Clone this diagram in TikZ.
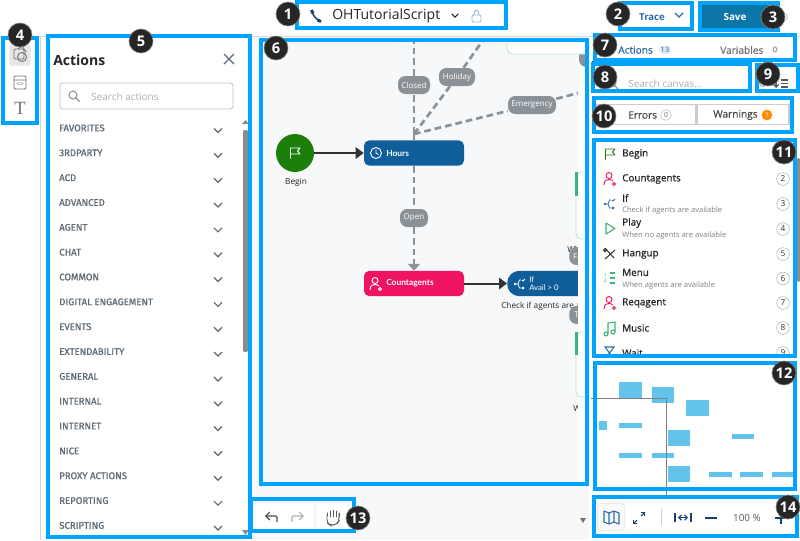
\documentclass[tikz,border=0pt]{standalone}
\usepackage{fontspec}
\setmainfont{Open Sans}
\newfontfamily\semifont{Open Sans}[FakeBold=0.8]
\newfontfamily\catfont{Fira Sans}[FakeBold=1]
\newfontfamily\flowfont{Lato}
\newfontfamily\toolfont{Liberation Serif}
\usetikzlibrary{arrows.meta,positioning}
\newcommand{\fs}[1]{\fontsize{#1}{#1}\selectfont}
\definecolor{framecol}{HTML}{00A3FF}
\definecolor{flowblue}{HTML}{0F5E99}
\definecolor{flowpink}{HTML}{EE1461}
\definecolor{flowgreen}{HTML}{1B7F0A}
\definecolor{pillgrey}{HTML}{8A9197}
\definecolor{canvasbg}{HTML}{F7F8F9}
\definecolor{mapblue}{HTML}{62C4EA}
\definecolor{catgrey}{HTML}{5F6B75}
\definecolor{faint}{HTML}{A9B0B6}
\definecolor{listgreen}{HTML}{3DB57A}
\definecolor{listblue}{HTML}{2A6EA8}
\definecolor{darknavy}{HTML}{14406E}
\tikzset{
  framebox/.style={draw=framecol,line width=2.9pt},
  badge/.style={circle,fill=black!85,draw=black!50,line width=0.5pt,text=white,inner sep=0pt,minimum size=18pt,font=\fs{11}\bfseries},
  pill/.style={rounded corners=5.5pt,fill=pillgrey,text=white,inner sep=0pt,minimum height=13.5pt,font=\fs{6}},
  flowbox/.style={rounded corners=4pt,text=white,minimum width=75pt,minimum height=19pt,inner sep=0pt},
  flowtext/.style={anchor=west,inner sep=0pt,text=white,font=\flowfont\fs{6.3}\bfseries},
  captiontext/.style={anchor=west,inner sep=0pt,font=\fs{6.2},text=black!85},
  dashline/.style={draw=pillgrey,line width=2pt,dash pattern=on 5pt off 3pt},
  flowarrow/.style={draw=black!80,line width=1.5pt,-{Triangle[length=6pt,width=8.5pt]}},
  catlabel/.style={anchor=west,text=catgrey,inner sep=0pt,font=\catfont\fs{7.2}},
  rowlabel/.style={anchor=west,text=black!85,inner sep=0pt,font=\semifont\fs{7.4}},
  rowsub/.style={anchor=west,text=black!50,inner sep=0pt,font=\fs{5.7}},
  rownum/.style={circle,draw=black!30,fill=white,inner sep=0pt,minimum size=9.5pt,text=black!80,font=\fs{6.2}},
  mapbox/.style={fill=mapblue},
  cardbox/.style={draw=listgreen!35,fill=white,rounded corners=4pt,line width=0.6pt},
  pics/chevron/.style={code={\draw[line width=0.9pt,#1] (-4,-2) -- (0,2) -- (4,-2);}},
  pics/flagicon/.style={code={\draw[line width=0.7pt,#1,line join=round] (-4.5,5.5) -- (-4.5,-5) -- (5,-5) -- (2.5,-2) -- (5,1) -- (-4.5,1);}},
  pics/personicon/.style={code={\draw[line width=0.7pt,#1] (-1,-3.5) circle (3) (-6,6) .. controls (-6,1) and (-3,0.5) .. (-1,0.5) .. controls (0.5,0.5) and (2,1) .. (3,2) (4,5) circle (1.5);}},
  pics/branchicon/.style={code={\fill[#1] (-5,0) circle (1.4);\draw[line width=0.6pt,#1] (-5,0) -- (-2,0) -- (-0.5,-4) -- (1,-4) (-2,0) -- (-0.5,4) -- (1,4) (2,-4) -- (3,-3) -- (5,-5) (2,3) -- (4,5) (4,3) -- (2,5);}},
  pics/searchicon/.style={code={\draw[line width=0.8pt,#1] (-1,-1) circle (4) (2,2) -- (5.5,5.5);}},
  pics/clockicon/.style={code={\draw[line width=0.7pt,#1] (0,0) circle (5.5) (0,-3.5) -- (0,0) -- (2.5,1.5);}}
}
\begin{document}
\begin{tikzpicture}[x=0.75pt,y=-0.75pt]
\useasboundingbox (0,0) rectangle (800,540);
\fill[white] (0,0) rectangle (800,540);
\fill[canvasbg] (250,36) rectangle (590,540);
\foreach \x in {264,272,...,584}
  \foreach \y in {44,52,...,484}
    \fill[black!16] (\x,\y) circle (0.35);
\draw[black!15] (0,36) -- (800,36);
\draw[black!15] (40,36) -- (40,540);

\begin{scope}
\clip (262,41) rectangle (578,484);
\coordinate (hub) at (414,134);
\coordinate (closedtop) at (414,36);
\coordinate (holidaytop) at (486,36);
\coordinate (emergencytop) at (590,90);
\node[circle,fill=flowgreen,minimum size=28.5pt,inner sep=0pt] (begin) at (295,153) {};
\node[font=\fs{6.2},text=black!85,inner sep=0pt] (beginlabel) at (296,182) {Begin};
\node[flowbox,fill=flowblue] (hours) at (414,153) {};
\node[flowtext] (hourslabel) at (386,153) {Hours};
\node[flowbox,fill=flowpink] (counta) at (414,283.5) {};
\node[flowtext] (countalabel) at (386,283.5) {Countagents};
\node[flowbox,fill=flowblue,rounded corners=9pt,anchor=west] (ifnode) at (507,283.5) {};
\node[flowtext,align=left,font=\flowfont\fs{5.8}] (iflabel) at (529,283.5) {If\\Avail > 0};
\node[captiontext] (ifcaption) at (501,306.5) {Check if agents are available};
\node[captiontext] (playlabel) at (567,249) {When};
\node[captiontext] (menulabel) at (573,408) {When};
\node[pill,minimum width=24pt] (closed) at (414,85) {Closed};
\node[pill,minimum width=27pt] (holiday) at (457,77) {Holiday};
\node[pill,minimum width=36pt] (emergency) at (532,105) {Emergency};
\node[pill,minimum width=21pt] (open) at (414,218) {Open};
\node[pill,minimum width=20pt,anchor=west] (ifpilla) at (569,256) {False};
\node[pill,minimum width=20pt,anchor=west] (ifpillb) at (569,315) {True};
\draw[pillgrey,line width=1.2pt] (ifpilla) -- (ifnode.north east);
\draw[pillgrey,line width=1.2pt] (ifpillb) -- (ifnode.south east);
\draw[flowarrow] (begin) -- (hours);
\draw[flowarrow] (counta) -- (ifnode);
\draw[dashline] (hours.north) -- (hub);
\draw[dashline] (hub) -- (closed);
\draw[dashline] (closed) -- (closedtop);
\draw[dashline] (hub) -- (holiday);
\draw[dashline] (holiday) -- (holidaytop);
\draw[dashline] (hub) -- (emergency);
\draw[dashline] (emergency) -- (emergencytop);
\draw[dashline] (hours.south) -- (open);
\draw[dashline,-{Triangle[length=5pt,width=9pt,fill=pillgrey]}] (open) -- (counta.north);
\pic at (295,153) {flagicon=white};
\pic at (376,153) {clockicon=white};
\pic at (376,284) {personicon=white};
\pic at (520,284) {branchicon=white};
\end{scope}

\fill[white] (578,60) rectangle (586,484);
\begin{scope}
\clip (500,41) rectangle (586,484);
\node[pill,minimum width=12pt] (toppill) at (587,58) {};
\draw[cardbox] (507,30) rectangle (600,54);
\draw[cardbox] (576,172) rectangle (600,239);
\draw[cardbox] (576,332) rectangle (600,397);
\fill[listgreen] (575,172) rectangle (578,196);
\fill[listgreen] (575,332) rectangle (578,355);
\end{scope}
\fill[black!55] (580,518) -- (586,518) -- (583,523) -- cycle;

\node[fill=black!10,rounded corners=2pt,minimum width=16pt,minimum height=16pt,inner sep=0pt] (toolsel) at (20,55) {};
\draw[black!55,line width=0.7pt,rounded corners=1pt] (14,49) rectangle (24,59);
\draw[black!55,line width=0.7pt] (22,57) circle (4.5) (18,49) -- (22,46) -- (26,52);
\draw[black!55,line width=0.7pt,rounded corners=1pt] (14,76) rectangle (26,89) (14,80) -- (26,80);
\node[inner sep=0pt,font=\fs{5},text=black!60] (tooltag) at (20,84.5) {<>};
\node[inner sep=0pt,font=\toolfont\fs{14},text=black!55] (tooltext) at (20,108) {T};

\node[anchor=west,inner sep=0pt,font=\fs{10.5}\bfseries,text=black!85] (paneltitle) at (53,60) {Actions};
\draw[catgrey,line width=1pt] (224,54) -- (234,64) (234,54) -- (224,64);
\draw[black!25,rounded corners=2pt,line width=0.6pt] (60,83) rectangle (233,109);
\pic at (74,96) {searchicon=catgrey!70};
\node[anchor=west,inner sep=0pt,font=\fs{7.5},text=faint] (panelsearch) at (91,97) {Search actions};
\foreach \name [count=\i from 0] in {FAVORITES,3RDPARTY,ACD,ADVANCED,AGENT,CHAT,COMMON,DIGITAL ENGAGEMENT,EVENTS,EXTENDABILITY,GENERAL,INTERNAL,INTERNET,NICE,PROXY ACTIONS,REPORTING,SCRIPTING}
{
  \pgfmathsetmacro{\rowy}{128+24.84*\i}
  \node[catlabel] (cat\i) at (59,\rowy) {\name};
  \pic at (218,\rowy+2.5) {chevron=black!60};
}
\fill[black!45,rounded corners=1pt] (243,130) rectangle (248,352);
\fill[black!45] (242,124) -- (249,124) -- (245.5,120) -- cycle;
\fill[black!45] (242,530) -- (249,530) -- (245.5,535) -- cycle;

\node[fill=white,minimum width=43pt,minimum height=21pt,inner sep=0pt] (undopanel) at (284,518) {};
\node[fill=white,minimum width=23pt,minimum height=21pt,inner sep=0pt] (handpanel) at (332,518) {};
\draw[black!70,line width=0.9pt,rounded corners=1pt,-{Straight Barb[length=3pt,width=6pt]}] (277,522) -- (277,516) -- (265,516);
\draw[black!30,line width=0.9pt,rounded corners=1pt,-{Straight Barb[length=3pt,width=6pt]}] (292,522) -- (292,516) -- (304,516);
\draw[black!65,line width=0.7pt,rounded corners=2.5pt] (327,515) -- (327,523) -- (330,525) -- (336,525) -- (339,521) -- (339,513);
\draw[black!65,line width=0.7pt,line cap=round] (327,516) -- (327,513) (330,517) -- (330,511) (333,517) -- (333,510) (336,517) -- (336,511) (339,517) -- (339,513);

\draw[darknavy,line width=1.1pt] (312,11) .. controls (313,16) and (316,19) .. (320,21);
\draw[darknavy,line width=2.2pt] (311.5,10) -- (313,13.5) (317.5,20) -- (321,21.5);
\node[anchor=west,inner sep=0pt,font=\fs{10.5},text=black!85] (scriptname) at (332,16) {OHTutorialScript};
\pic at (455,15.5) [scale=0.8] {chevron=black!85};
\draw[listblue!50,line width=0.7pt,rounded corners=1pt] (472,15) rectangle (481,22) (474,15) -- (474,12) -- (476.5,9.5) -- (479,12) -- (479,15);

\node[inner sep=0pt,font=\fs{7.2}\bfseries,text=listblue] (tracebtn) at (652,17) {Trace};
\pic at (679,15) {chevron=listblue};
\node[fill=flowblue!85!cyan,minimum width=51pt,minimum height=19pt,inner sep=0pt,text=white,font=\fs{7.4}\bfseries] (savebtn) at (735,17) {Save};
\draw[black!20,line width=0.7pt] (784,17) circle (3.5);

\node[anchor=west,inner sep=0pt,font=\semifont\fs{7.6},text=listblue] (tabactions) at (618,50) {Actions};
\node[fill=listblue!15,rounded corners=3pt,inner sep=1pt,font=\fs{5.6},text=listblue] (tabactionsnum) at (665,50) {13};
\node[anchor=west,inner sep=0pt,font=\semifont\fs{7.6},text=black!55] (tabvars) at (720,50) {Variables};
\node[fill=black!6,rounded corners=3pt,inner sep=1pt,font=\fs{5.6},text=black!60] (tabvarsnum) at (775,50) {0};
\draw[darknavy,line width=0.9pt] (592,62) -- (693,62);
\pic at (613,84) {searchicon=catgrey!70};
\node[anchor=west,inner sep=0pt,font=\fs{7.5},text=faint] (canvassearch) at (628,84) {Search canvas...};
\draw[black!30,line width=0.8pt] (763,83) circle (3.5);
\draw[black!65,line width=0.9pt] (781,80) -- (788,80) (781,83.5) -- (788,83.5) (781,87) -- (788,87);
\draw[black!65,line width=0.9pt,-{Straight Barb[length=2pt,width=4pt]}] (776,78) -- (776,88);
\node[draw=black!20,line width=0.8pt,minimum width=75pt,minimum height=15pt,inner sep=0pt] (errbtn) at (646,114.5) {};
\node[draw=black!20,line width=0.8pt,minimum width=69pt,minimum height=15pt,inner sep=0pt] (warnbtn) at (743,114.5) {};
\node[anchor=west,inner sep=0pt,font=\semifont\fs{7.6},text=black!70] (errlabel) at (628,115) {Errors};
\node[circle,draw=black!25,inner sep=0pt,minimum size=8pt,font=\fs{5},text=black!60] (errnum) at (666,115) {0};
\node[anchor=west,inner sep=0pt,font=\semifont\fs{7.6},text=black!70] (warnlabel) at (713,115) {Warnings};
\node[circle,fill=orange!90!yellow,inner sep=0pt,minimum size=8pt,font=\fs{5},text=white] (warnnum) at (767,115) {1};

\begin{scope}
\clip (595,140) rectangle (795,356);
\pic at (610,154) {flagicon=flowgreen};
\node[rowlabel] (rowbegin) at (622,154) {Begin};
\pic at (610,179) {personicon=flowpink};
\node[rowlabel] (rowcount) at (622,179) {Countagents};
\node[rownum] (num2) at (783,179) {2};
\pic at (610,204) {branchicon=listblue};
\node[rowlabel] (rowif) at (622,198) {If};
\node[rowsub] (subif) at (622,210.5) {Check if agents are available};
\node[rownum] (num3) at (783,204) {3};
\draw[listgreen,line width=0.8pt,line join=round] (606,223) -- (606,234) -- (615,228.5) -- cycle;
\node[rowlabel] (rowplay) at (622,223) {Play};
\node[rowsub] (subplay) at (622,235.5) {When no agents are available};
\node[rownum] (num4) at (783,229) {4};
\draw[black!80,line width=0.8pt] (605,248) -- (614,258) (615,250) -- (605,259) (605,250) circle (1.5);
\node[rowlabel] (rowhangup) at (622,254) {Hangup};
\node[rownum] (num5) at (783,254) {5};
\draw[listgreen,line width=0.8pt] (610,273) -- (615,273) (610,278) -- (615,278) (610,283) -- (615,283);
\node[inner sep=0pt,font=\fs{4},text=listgreen,align=center] (menunums) at (605.5,278) {1\\2};
\node[rowlabel] (rowmenu) at (622,272.5) {Menu};
\node[rowsub] (submenu) at (622,285.5) {When agents are available};
\node[rownum] (num6) at (783,278.5) {6};
\pic at (610,303) {personicon=flowpink};
\node[rowlabel] (rowreq) at (622,303) {Reqagent};
\node[rownum] (num7) at (783,303) {7};
\draw[listgreen,line width=0.8pt] (606,334) circle (2) (613,332) circle (2) (608,334) -- (608,323) -- (615,322) -- (615,332);
\node[rowlabel] (rowmusic) at (622,328) {Music};
\node[rownum] (num8) at (783,328) {8};
\draw[listblue,line width=0.8pt] (605,347) -- (614,347) -- (605,359) -- (614,359) -- cycle;
\node[rowlabel] (rowwait) at (622,353) {Wait};
\node[rownum] (num9) at (783,353) {9};
\end{scope}
\fill[black!45,rounded corners=1pt] (797,158) rectangle (800,282);

\foreach \xa/\ya/\xb/\yb in {619/382/642/398,652/387/674/403,686/400/709/416,599/421/607/430,619/423/642/428,732/434/754/439,668/430/690/446,619/453/642/458,652/453/674/458,668/466/690/482,709/472/732/477,740/472/763/477,772/472/794/477}
  \fill[mapbox] (\xa,\ya) rectangle (\xb,\yb);
\draw[black!50,line width=0.7pt] (591,398) -- (666,398) -- (666,495);

\node[draw=black!12,fill=black!2,rounded corners=2pt,minimum size=20pt,inner sep=0pt] (mapbtn) at (611,517) {};
\draw[listblue,line width=0.8pt,line join=round] (604,511) -- (609,513) -- (614,511) -- (619,513) -- (619,524) -- (614,522) -- (609,524) -- (604,522) -- cycle (609,513) -- (609,524) (614,511) -- (614,522);
\draw[darknavy,line width=0.8pt,-{Straight Barb[length=2pt,width=4pt]}] (637,520) -- (633,524);
\draw[darknavy,line width=0.8pt,-{Straight Barb[length=2pt,width=4pt]}] (641,516) -- (645,512);
\draw[black!20,line width=0.6pt] (661,509) -- (661,525);
\draw[darknavy,line width=0.8pt] (675,513) -- (675,522) (691,513) -- (691,522);
\draw[darknavy,line width=0.8pt,{Straight Barb[length=2pt,width=4pt]}-{Straight Barb[length=2pt,width=4pt]}] (678,517.5) -- (688,517.5);
\draw[darknavy,line width=0.9pt] (705,518) -- (717,518);
\node[inner sep=0pt,font=\fs{7.4},text=black!65] (zoomlevel) at (747,518) {100 \%};
\draw[darknavy,line width=0.9pt] (775,518) -- (787,518) (781,512) -- (781,524);

\foreach \xa/\ya/\xb/\yb in {297/2/506/28,620/3/692/29,700/3/778/30,595/35/795/60,593/64/750/91,757/65/798/91,594/98/792/132,594/140/795/356,595/363/795/489,594/497/797/536,3/38/37/123,48/36/250/537,261/40/587/484,251/499/354/531}
  \draw[framebox] (\xa,\ya) rectangle (\xb,\yb);

\foreach \i/\x/\y in {1/288/14,2/618/14,3/773/17,4/20/35,5/141/41,6/276/48,7/605/45,8/605/77,9/768/74,10/604/116,11/784/152,12/784/373,13/358/518,14/788/507}
  \node[badge] (badge\i) at (\x,\y) {\i};
\end{tikzpicture}
\end{document}
